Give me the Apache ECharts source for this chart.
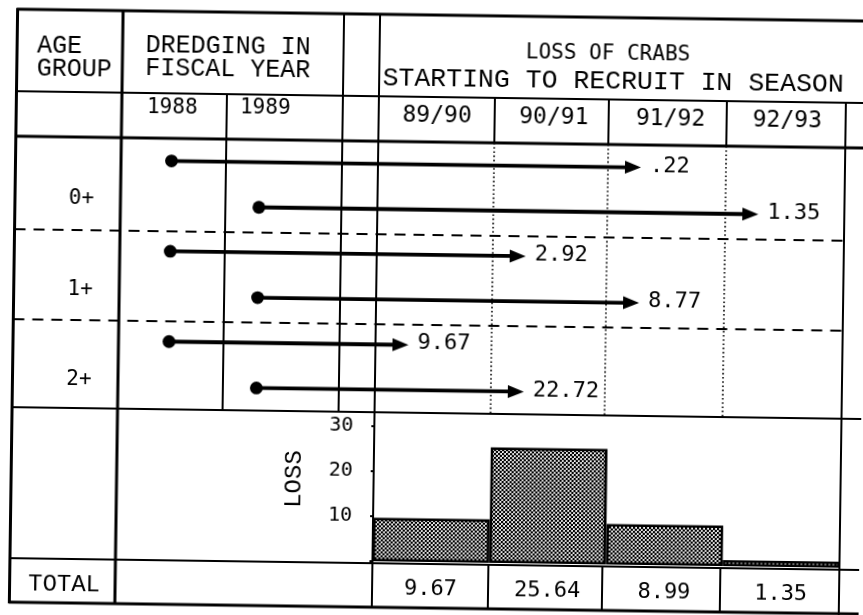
<!DOCTYPE html>
<html>
<head>
<meta charset="utf-8">
<script src="https://cdn.jsdelivr.net/npm/echarts@6/dist/echarts.min.js"></script>
<style>
html,body{margin:0;padding:0;background:#fff;overflow:hidden;}
#chart{width:863px;height:615px;transform:rotate(0.8deg);transform-origin:431.5px 307.5px;}
</style>
</head>
<body>
<div id="chart"></div>
<script>
// ---------------- DATA ----------------
const ageGroups = ['0+', '1+', '2+'];
const dredgingYears = ['1988', '1989'];
const seasons = ['89/90', '90/91', '91/92', '92/93'];
// one arrow per age group and dredging year: season in which the loss is felt
const arrowAge = ['0+', '0+', '1+', '1+', '2+', '2+'];
const arrowYear = ['1988', '1989', '1988', '1989', '1988', '1989'];
const arrowSeason = ['91/92', '92/93', '90/91', '91/92', '89/90', '90/91'];
const arrowLoss = [0.22, 1.35, 2.92, 8.77, 9.67, 22.72];
// totals per season
const seasonTotal = [9.67, 25.64, 8.99, 1.35];
const lossTicks = [10, 20, 30];

// ---------------- LAYOUT (positions / styles) ----------------
const SERIF = '"Liberation Mono", "Courier New", monospace';
const SANS = '"DejaVu Sans Mono", monospace';
const XL = 13.5, XAGE = 119, XYR = 224, XGAPL = 340, XGAPR = 376, XRIGHT = 843, XEND = 880;
const seasonEdges = [376, 492, 606, 724, 843];
const YTOP = 15, YHEAD = 97, YSUB = 142, YD1 = 235, YD2 = 325, YARR = 413, YTOT = 564, YBOT = 608;
const yearDotX = [169.5, 257.5];
const ARROW_INSET = 33;

const fmtLoss = v => v < 1 ? v.toFixed(2).slice(1) : v.toFixed(2);

// sub-rows of the arrow section: age group x dredging year
const subrows = [];
ageGroups.forEach(a => dredgingYears.forEach(y => subrows.push(a + ' ' + y)));

const arrowData = arrowLoss.map((v, i) => [
  yearDotX[dredgingYears.indexOf(arrowYear[i])],
  seasonEdges[seasons.indexOf(arrowSeason[i])] + ARROW_INSET,
  subrows.indexOf(arrowAge[i] + ' ' + arrowYear[i]),
  v
]);

// dotted (halftone) pattern for the bars
const pc = document.createElement('canvas');
pc.width = 4; pc.height = 4;
const g = pc.getContext('2d');
g.fillStyle = '#fff'; g.fillRect(0, 0, 4, 4);
g.fillStyle = '#000';
g.beginPath(); g.arc(1, 1, 1.35, 0, Math.PI * 2); g.fill();
g.beginPath(); g.arc(3, 3, 1.35, 0, Math.PI * 2); g.fill();

// ---------------- TABLE LINES (decoration) ----------------
const lines = [];
function hl(y, x1, x2, w, dash) {
  lines.push({type: 'line', z: 1, silent: true, shape: {x1: x1, y1: y, x2: x2, y2: y},
    style: {stroke: '#000', lineWidth: w, lineDash: dash || null}});
}
function vl(x, y1, y2, w, dash) {
  lines.push({type: 'line', z: 1, silent: true, shape: {x1: x, y1: y1, x2: x, y2: y2},
    style: {stroke: '#000', lineWidth: w, lineDash: dash || null}});
}
hl(YTOP, XL - 1, XEND, 3);
hl(YHEAD, XL, XEND, 2);
hl(YSUB, XL, XEND, 3);
hl(YD1, XL, XRIGHT, 2, [11, 8]);
hl(YD2, XL, XRIGHT, 2, [11, 8]);
hl(YARR, XL, XEND, 2);
hl(YTOT, XL, XEND, 2.2);
hl(YBOT, XL - 1, XEND, 3);
vl(XL, YTOP - 1, YBOT + 1, 3);
vl(XAGE, YTOP, YBOT, 3);
vl(XYR, YHEAD, YARR, 2);
vl(XGAPL, YTOP, YARR, 2);
vl(XGAPR, YTOP, YBOT, 2);
vl(XRIGHT, YHEAD, YBOT + 6, 2);
for (let i = 1; i < 4; i++) {
  const x = seasonEdges[i];
  vl(x, YHEAD, YSUB, 2);
  vl(x, YSUB, YARR, 1.6, [1.6, 2.6]);
  vl(x, YTOT, YBOT, 2);
}

function txt(t, x, y, size, family, align) {
  return {type: 'text', z: 5, x: x, y: y, silent: true,
    style: {text: t, fill: '#000', fontSize: size, fontFamily: family,
      align: align || 'center', verticalAlign: 'middle',
      textAlign: align || 'center', textVerticalAlign: 'middle'}};
}
const texts = [
  txt('AGE', 33.5, 51, 25, SERIF, 'left'),
  txt('GROUP', 33.5, 74, 25, SERIF, 'left'),
  txt('DREDGING IN', 142, 49, 25, SERIF, 'left'),
  txt('FISCAL YEAR', 142, 72, 25, SERIF, 'left'),
  txt('LOSS OF CRABS', 604.5, 51.5, 21, SANS),
  txt('STARTING TO RECRUIT IN SEASON', 610, 78.5, 26.5, SERIF),
  txt(dredgingYears[0], 169.5, 111.5, 21, SANS),
  txt(dredgingYears[1], 262.5, 111, 21, SANS),
  txt('TOTAL', 68, 589.5, 24, SERIF)
];
const ageLabelY = [203.5, 295, 384.5];
ageGroups.forEach((a, i) => texts.push(txt(a, 80, ageLabelY[i], 21, SANS)));
const lossName = txt('LOSS', 297, 481, 24, SERIF);
lossName.rotation = Math.PI / 2;
texts.push(lossName);

// ---------------- ARROWS ----------------
function renderArrow(params, api) {
  const x0 = api.value(0), x1 = api.value(1), row = api.value(2), loss = api.value(3);
  const p0 = api.coord([x0, row]);
  const p1 = api.coord([x1, row]);
  const head = 16, hw = 6.5;
  return {
    type: 'group',
    children: [
      {type: 'line', shape: {x1: p0[0], y1: p0[1], x2: p1[0] - head + 3, y2: p1[1]},
        style: {stroke: '#000', lineWidth: 3.8}},
      {type: 'circle', shape: {cx: p0[0], cy: p0[1], r: 6.4}, style: {fill: '#000'}},
      {type: 'polygon', shape: {points: [[p1[0], p1[1]], [p1[0] - head, p1[1] - hw], [p1[0] - head, p1[1] + hw]]},
        style: {fill: '#000'}},
      {type: 'text', x: p1[0] + 9, y: p1[1] - 1.5,
        style: {text: fmtLoss(loss), fill: '#000', fontSize: 22, fontFamily: SANS,
          align: 'left', verticalAlign: 'middle'}}
    ]
  };
}

const chart = echarts.init(document.getElementById('chart'), null, {renderer: 'canvas'});
chart.setOption({
  animation: false,
  backgroundColor: '#fff',
  grid: [
    {left: 0, top: YSUB, width: 863, height: YARR - YSUB},
    {left: seasonEdges[0], top: 427, width: seasonEdges[4] - seasonEdges[0], height: 135}
  ],
  xAxis: [
    {gridIndex: 0, type: 'value', min: 0, max: 863, show: false},
    {gridIndex: 1, type: 'category', data: seasons, boundaryGap: true,
      axisLine: {show: false}, axisTick: {show: false}, splitLine: {show: false},
      axisLabel: {
        margin: 27, verticalAlign: 'middle', color: '#000', fontSize: 22, fontFamily: SANS,
        formatter: (val, idx) => seasonTotal[idx].toFixed(2)
      }},
    {gridIndex: 1, type: 'category', data: seasons, position: 'top', offset: 427 - YSUB,
      axisLine: {show: false}, axisTick: {show: false}, splitLine: {show: false},
      axisLabel: {margin: 26, verticalAlign: 'middle', color: '#000', fontSize: 23, fontFamily: SANS}}
  ],
  yAxis: [
    {gridIndex: 0, type: 'category', data: subrows, inverse: true, show: false},
    {gridIndex: 1, type: 'value', min: 0, max: lossTicks[lossTicks.length - 1], interval: lossTicks[0],
      axisLine: {show: false},
      axisTick: {show: true, length: 3, lineStyle: {color: '#000', width: 2}},
      splitLine: {show: false},
      axisLabel: {margin: 21, color: '#000', fontSize: 20, fontFamily: SANS,
        formatter: v => (lossTicks.indexOf(v) >= 0 ? String(v) : '')}}
  ],
  graphic: {elements: lines.concat(texts)},
  series: [
    {
      type: 'custom', name: 'Loss by age group', xAxisIndex: 0, yAxisIndex: 0,
      renderItem: renderArrow, data: arrowData, z: 3,
      encode: {x: [0, 1], y: 2}
    },
    {
      type: 'bar', name: 'Total loss', xAxisIndex: 1, yAxisIndex: 1,
      data: seasonTotal, barCategoryGap: '0%', z: 2,
      itemStyle: {color: {image: pc, repeat: 'repeat'}, borderColor: '#000', borderWidth: 2.5}
    }
  ]
});
</script>
</body>
</html>
